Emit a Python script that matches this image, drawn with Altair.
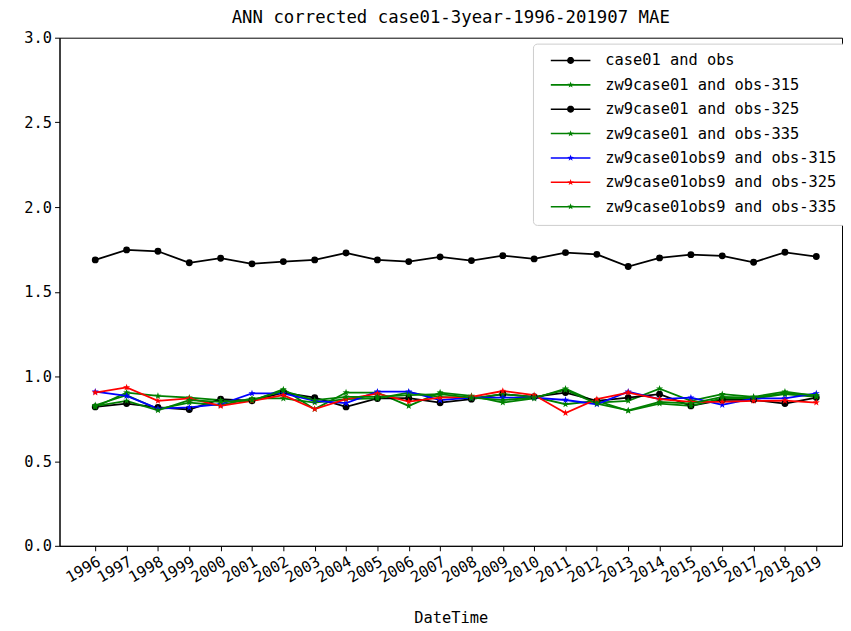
import math
import altair as alt
import pandas as pd

years = list(range(1996, 2020))

series_names = [
    "case01 and obs",
    "zw9case01 and obs-315",
    "zw9case01 and obs-325",
    "zw9case01 and obs-335",
    "zw9case01obs9 and obs-315",
    "zw9case01obs9 and obs-325",
    "zw9case01obs9 and obs-335",
]
series_colors = ["#000000", "#008000", "#000000", "#008000", "#0000ff", "#ff0000", "#008000"]
series_marker = ["circle", "star", "circle", "star", "star", "star", "star"]

case01_obs = [1.688, 1.747, 1.739, 1.671, 1.698, 1.665, 1.678, 1.688, 1.729, 1.688, 1.678, 1.706,
              1.684, 1.713, 1.694, 1.731, 1.721, 1.649, 1.700, 1.719, 1.712, 1.674, 1.733, 1.708]
zw9_315 = [0.820, 0.905, 0.885, 0.875, 0.860, 0.856, 0.924, 0.807, 0.905, 0.905, 0.826, 0.905,
           0.885, 0.846, 0.870, 0.928, 0.846, 0.856, 0.928, 0.856, 0.895, 0.880, 0.910, 0.885]
zw9_325 = [0.820, 0.840, 0.817, 0.805, 0.866, 0.856, 0.905, 0.875, 0.820, 0.870, 0.872, 0.845,
           0.866, 0.895, 0.880, 0.905, 0.856, 0.875, 0.895, 0.826, 0.862, 0.862, 0.840, 0.875]
zw9_335 = [0.830, 0.890, 0.807, 0.846, 0.830, 0.870, 0.870, 0.846, 0.866, 0.870, 0.905, 0.880,
           0.870, 0.895, 0.880, 0.836, 0.856, 0.797, 0.840, 0.826, 0.870, 0.870, 0.895, 0.880]
obs9_315 = [0.910, 0.885, 0.810, 0.817, 0.836, 0.900, 0.900, 0.856, 0.842, 0.910, 0.910, 0.860,
            0.875, 0.875, 0.875, 0.861, 0.836, 0.910, 0.866, 0.875, 0.832, 0.870, 0.870, 0.900]
obs9_325 = [0.905, 0.935, 0.856, 0.870, 0.826, 0.856, 0.890, 0.807, 0.866, 0.899, 0.852, 0.875,
            0.880, 0.914, 0.890, 0.784, 0.866, 0.905, 0.866, 0.850, 0.850, 0.856, 0.857, 0.846]
obs9_335 = [0.825, 0.856, 0.800, 0.860, 0.850, 0.860, 0.915, 0.860, 0.880, 0.880, 0.890, 0.895,
            0.875, 0.860, 0.875, 0.920, 0.840, 0.800, 0.850, 0.840, 0.880, 0.875, 0.900, 0.890]

all_values = [case01_obs, zw9_315, zw9_325, zw9_335, obs9_315, obs9_325, obs9_335]

rows = []
for name, vals, mk, col in zip(series_names, all_values, series_marker, series_colors):
    for yr, v in zip(years, vals):
        rows.append({"year": yr, "mae": v, "series": name, "marker": mk, "col": col})
df = pd.DataFrame(rows)
df_circle = df[df["marker"] == "circle"]
df_star = df[df["marker"] == "star"]
df_legend = pd.DataFrame({"year": [2000] * len(series_names), "mae": [-1.0] * len(series_names),
                          "series": series_names})


def polygon(n, r_out, r_in, cx=0.0, start=-90):
    pts = []
    for k in range(n):
        a = math.radians(start + 360.0 * k / n)
        r = r_out if k % 2 == 0 else r_in
        pts.append(f"{cx + r * math.cos(a):.3f},{r * math.sin(a):.3f}")
    return "M" + " L".join(pts) + " Z"


def star_path(scale=1.0, cx=0.0):
    return polygon(10, scale, scale * 0.4, cx)


def circle_path(r, cx=0.0):
    return polygon(20, r, r, cx)


# legend glyph: symbolSize 256 -> 1 path unit = 8 px
LX0, LX1 = 0.125, 5.125
LCX = (LX0 + LX1) / 2
line_part = f"M{LX0},-0.1 L{LX1},-0.1 L{LX1},0.1 L{LX0},0.1 Z"
legend_paths = [line_part + " " + (circle_path(0.45, LCX) if m == "circle" else star_path(0.42, LCX))
                for m in series_marker]

FONT = "DejaVu Sans Mono"

x_enc = alt.X("year:Q", scale=alt.Scale(domain=[1994.86, 2019.82], nice=False, zero=False),
              axis=alt.Axis(values=years, format="d", labelAngle=-30, labelAlign="right",
                            labelBaseline="top", labelOverlap=False, title="DateTime", grid=False))
y_enc = alt.Y("mae:Q", scale=alt.Scale(domain=[0, 3], nice=False),
              axis=alt.Axis(values=[0, 0.5, 1.0, 1.5, 2.0, 2.5, 3.0], format=".1f",
                            title=None, grid=False))

lines = alt.Chart(df).mark_line(strokeWidth=1.8).encode(
    x=x_enc, y=y_enc,
    stroke=alt.Stroke("col:N", scale=None),
    detail="series:N",
)
pts_circle = alt.Chart(df_circle).mark_point(filled=True, shape="circle", size=48, opacity=1,
                                             strokeWidth=0).encode(
    x=x_enc, y=y_enc,
    fill=alt.Fill("col:N", scale=None),
)
pts_star = alt.Chart(df_star).mark_point(filled=True, shape=star_path(), size=55, opacity=1,
                                         strokeWidth=0).encode(
    x=x_enc, y=y_enc,
    fill=alt.Fill("col:N", scale=None),
)

leg = alt.Legend(title=None, orient="none", legendX=478, legendY=6, fillColor="white",
                 strokeColor="#cccccc", cornerRadius=4, padding=9, rowPadding=7.6,
                 symbolSize=256, symbolStrokeWidth=0, symbolOpacity=1, labelOffset=48,
                 labelFont=FONT, labelFontSize=15.5, labelColor="black", labelLimit=400)
legend_layer = alt.Chart(df_legend).mark_point(filled=True, clip=True).encode(
    x=x_enc, y=y_enc,
    color=alt.Color("series:N", scale=alt.Scale(domain=series_names, range=series_colors), legend=leg),
    shape=alt.Shape("series:N", scale=alt.Scale(domain=series_names, range=legend_paths), legend=leg),
)

chart = alt.layer(lines, pts_circle, pts_star, legend_layer).properties(
    width=790, height=513,
    title=alt.TitleParams("ANN corrected case01-3year-1996-201907 MAE", font=FONT, fontSize=17.5,
                          fontWeight="normal", color="black", offset=4),
    autosize=alt.AutoSizeParams(type="none"),
    padding={"left": 52, "top": 27, "right": 1, "bottom": 82},
).configure_view(stroke="black", strokeWidth=1).configure_axis(
    labelFont=FONT, labelFontSize=15.5, labelColor="black", domainColor="black",
    tickColor="black", tickSize=5, labelPadding=3, titleFont=FONT, titleFontSize=15.5,
    titleFontWeight="normal", titleColor="black",
).configure_axisX(titlePadding=25)

chart.save("out.html", embed_options={"renderer": "svg", "actions": False})
